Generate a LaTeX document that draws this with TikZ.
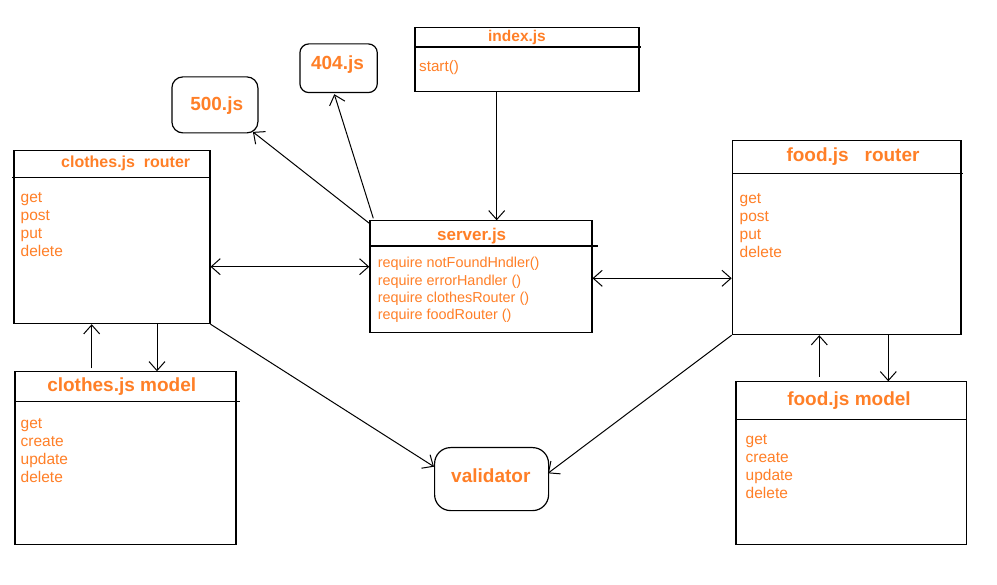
\documentclass[tikz,border=0pt]{standalone}
\usepackage{fontspec}
\setmainfont{Liberation Sans}
\usetikzlibrary{arrows.meta,calc}
\definecolor{paintorange}{RGB}{255,127,39}
% a top-aligned list of lines, baseline on the first line
\newcommand{\boxlines}[1]{\begin{tabular}[t]{@{}l@{}}#1\end{tabular}}
\begin{document}
\begin{tikzpicture}[x=1pt,y=-1pt,
  box/.style={draw,line width=1.2pt,inner sep=0pt,anchor=north west},
  rbox/.style={box,rounded corners=#1},
  divider/.style={line width=1.2pt},
  title/.style={text=paintorange,font=\bfseries\fontsize{#1}{#1}\selectfont,anchor=base,inner sep=0pt},
  title/.default=19,
  itemlist/.style={text=paintorange,font=\fontsize{15.5}{18}\selectfont,anchor=base west,inner sep=0pt},
  barb/.tip={Straight Barb[length=9pt,width=16pt,line width=1pt]},
  link/.style={line width=1pt,-barb},
  both/.style={line width=1pt,barb-barb}]

\fill[white] (0,0) rectangle (997,585);
\useasboundingbox (0,0) rectangle (997,585);

% ---- boxes ----
\node[box,minimum width=196pt,minimum height=172.7pt] (cr) at (13.3,150.3) {};
\node[box,minimum width=222pt,minimum height=111.7pt] (srv) at (369.3,220.3) {};
\node[box,minimum width=224pt,minimum height=63.7pt] (idx) at (414.3,27.3) {};
\node[rbox=9pt,minimum width=77.4pt,minimum height=48.7pt] (e404) at (299.3,43.3) {};
\node[rbox=11pt,minimum width=86pt,minimum height=56pt] (e500) at (171.3,76.3) {};
\node[box,minimum width=228.6pt,minimum height=193.7pt] (fr) at (731.7,140.3) {};
\node[box,minimum width=221pt,minimum height=172.7pt] (cm) at (14.3,371.3) {};
\node[box,minimum width=230.4pt,minimum height=162.7pt] (fm) at (735.3,381.3) {};
\node[rbox=16pt,minimum width=114pt,minimum height=63pt] (val) at (434,447) {};

% ---- compartment lines ----
\draw[divider] (12.3,177.3) -- (209.3,177.3);
\draw[divider] (369.3,246) -- (598,246);
\draw[divider] (414.3,47) -- (640.7,47);
\draw[divider] (732.7,173.3) -- (962.7,173.3);
\draw[divider] (14.3,401.3) -- (240,401.3);
\draw[divider] (735.3,419.3) -- (965.7,419.3);

% ---- titles ----
\node[title=16] (tcr) at (125.7,167.7) {clothes.js\ \ router};
\node[title] (tcm) at (121.7,391.7) {clothes.js model};
\node[title] (tfr) at (853,161.7) {food.js\ \ \ router};
\node[title] (tfm) at (849,405.3) {food.js model};
\node[title=17] (tsrv) at (471.7,240.7) {server.js};
\node[title=15.5] (tidx) at (517,41.7) {index.js};
\node[title] (t404) at (337.5,70) {404.js};
\node[title] (t500) at (216.7,110.7) {500.js};
\node[title] (tval) at (490.8,482.7) {validator};

% ---- member lists ----
\node[itemlist] (lcr) at (20.5,202.5) {\boxlines{get\\post\\put\\delete}};
\node[itemlist] (lfr) at (739.5,203.5) {\boxlines{get\\post\\put\\delete}};
\node[itemlist] (lcm) at (20.5,428.7) {\boxlines{get\\create\\update\\delete}};
\node[itemlist] (lfm) at (745.5,445) {\boxlines{get\\create\\update\\delete}};
\node[itemlist,font=\fontsize{14.4}{17.2}\selectfont] (lsrv) at (377.7,268)
  {\boxlines{require notFoundHndler()\\require errorHandler ()\\require clothesRouter ()\\require foodRouter ()}};
\node[itemlist,font=\fontsize{15.2}{18}\selectfont] (lidx) at (419,71.5) {start()};

% ---- connectors ----
\draw[link] ($(idx.south west)+(82.4,0)$) coordinate (a1) -- (a1 |- srv.north);
\draw[link] ($(srv.north west)+(4,-2)$) -- ($(e404.south west)+(35,1)$);
\draw[link] ($(srv.north west)+(0,3)$) -- ($(e500.south east)+(-5.6,-1.6)$);
\draw[both] ($(cr.north east)+(0,116.4)$) coordinate (a2) -- (a2 -| srv.west);
\draw[both] ($(srv.north east)+(0,58)$) coordinate (a3) -- (a3 -| fr.west);
\draw[link] ($(cm.north west)+(77.4,-3)$) coordinate (a4) -- (a4 |- cr.south);
\draw[link] ($(cr.south west)+(143.7,0)$) coordinate (a5) -- (a5 |- cm.north);
\draw[link] ($(fm.north west)+(84,-4.6)$) coordinate (a6) -- (a6 |- fr.south);
\draw[link] ($(fr.south west)+(156.6,0)$) coordinate (a7) -- (a7 |- fm.north);
\draw[link] (cr.south east) -- ($(val.north west)+(0,19.7)$);
\draw[link] (fr.south west) -- ($(val.north east)+(-1.3,26.3)$);
\end{tikzpicture}
\end{document}
